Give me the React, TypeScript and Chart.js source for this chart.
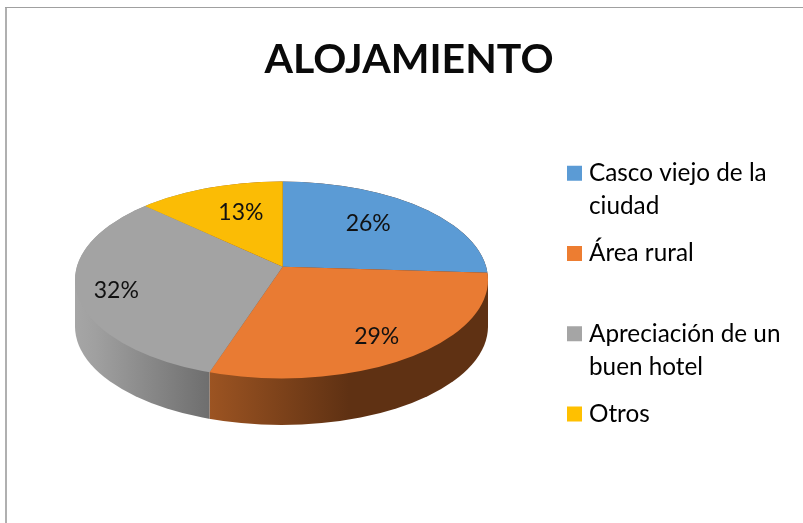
import React, { useEffect, useRef } from "react";
import { Chart, registerables } from "chart.js";

Chart.register(...registerables);

// ---- data ----
const chartTitle = "ALOJAMIENTO";
const categories = ["Casco viejo de la ciudad", "Área rural", "Apreciación de un buen hotel", "Otros"];
const legendLines = [["Casco viejo de la", "ciudad"], ["Área rural", ""], ["Apreciación de un", "buen hotel"], ["Otros"]];
const shares = [26, 29, 32, 13];
const legendColors = ["#5B9BD5", "#ED7D31", "#A5A5A5", "#FFC000"];
const sliceColors = ["#5B9BD5", "#E97B33", "#A3A3A3", "#FBBC05"];

// ---- styling ----
const FONT = "Lato, 'Open Sans', sans-serif";
const TEXT = "#111111";
const WALL_STOPS: (null | [string, number][])[] = [
  null,
  [["#9C5422", 0], ["#5F3113", 0.5], ["#5F3113", 1]],
  [["#A6A6A6", 0], ["#A0A0A0", 0.15], ["#6E6E6E", 1]],
  null,
];
const LABEL_PLACE = [[0.568, 0.648], [0.81, 0.874], [0.832, 0.996], [0.51, 0.608]];
const TILT = 0.469;
const APEX = { x: 282.7, y: 266.7 };
const RIM = { x: 281.5, y: 280, rx: 206.5, ry: 98.5 };
const DEPTH = 46.5;
const OVERSCALE = 1.25;

function rimPoint(theta: number) {
  const dx = Math.cos(theta), dy = Math.sin(theta) * TILT;
  const ox = (APEX.x - RIM.x) / RIM.rx, oy = (APEX.y - RIM.y) / RIM.ry;
  const ux = dx / RIM.rx, uy = dy / RIM.ry;
  const a = ux * ux + uy * uy, b = 2 * (ox * ux + oy * uy), c = ox * ox + oy * oy - 1;
  const t = (-b + Math.sqrt(b * b - 4 * a * c)) / (2 * a);
  return { x: APEX.x + t * dx, y: APEX.y + t * dy };
}

const framePlugin = {
  id: "frame",
  beforeDraw(chart: any) {
    const { ctx, width, height } = chart;
    ctx.save();
    ctx.fillStyle = "#FFFFFF";
    ctx.fillRect(0, 0, width, height);
    ctx.fillStyle = "#B0B0B0";
    ctx.fillRect(5, 7, 2, height - 7);
    ctx.fillStyle = "#A0A0A0";
    ctx.fillRect(5, 7, width - 5, 1);
    ctx.restore();
  },
};

const legendPlacePlugin = {
  id: "legendPlace",
  afterLayout(chart: any) {
    const l = chart.legend;
    const w = l.right - l.left, h = l.bottom - l.top;
    l.left = 557.85; l.right = 557.85 + w; l.top = 146.75; l.bottom = 146.75 + Math.max(h, 330);
  },
};

const tiltedPiePlugin = {
  id: "tiltedPie",
  beforeDatasetDraw(chart: any, args: any) {
    const { ctx } = chart;
    const arcs = args.meta.data;
    const first = arcs[0];

    // side wall
    arcs.forEach((arc: any, i: number) => {
      const stops = WALL_STOPS[i];
      if (!stops) return;
      const a = arc.startAngle, b = arc.endAngle;
      const pa = rimPoint(a), pb = rimPoint(b);
      const lowA = pa.y > RIM.y, lowB = pb.y > RIM.y;
      const has90 = a <= Math.PI / 2 && b >= Math.PI / 2;
      if (!lowA && !lowB && !has90) return;
      const xR = lowA ? pa.x : RIM.x + RIM.rx;
      const xL = lowB ? pb.x : RIM.x - RIM.rx;
      ctx.save();
      ctx.beginPath();
      ctx.rect(xL, 0, xR - xL, chart.height);
      ctx.clip();
      ctx.beginPath();
      ctx.ellipse(RIM.x, RIM.y, RIM.rx, RIM.ry, 0, 0, Math.PI, true);
      ctx.ellipse(RIM.x, RIM.y + DEPTH, RIM.rx, RIM.ry, 0, Math.PI, 0, true);
      ctx.closePath();
      const g = ctx.createLinearGradient(xL, 0, xR, 0);
      stops.forEach((s) => g.addColorStop(s[1], s[0]));
      ctx.fillStyle = g;
      ctx.fill();
      ctx.restore();
    });

    // top surface through the library's own arc elements
    ctx.save();
    ctx.beginPath();
    ctx.ellipse(RIM.x, RIM.y, RIM.rx, RIM.ry, 0, 0, Math.PI * 2);
    ctx.clip();
    ctx.translate(APEX.x, APEX.y);
    const s = (RIM.rx / first.outerRadius) * OVERSCALE;
    ctx.scale(s, s * TILT);
    ctx.translate(-first.x, -first.y);
    args.meta.controller.draw();
    ctx.restore();
    return false;
  },
  afterDatasetsDraw(chart: any) {
    const { ctx } = chart;
    const arcs = chart.getDatasetMeta(0).data;
    const total = shares.reduce((p, v) => p + v, 0);
    ctx.save();
    ctx.font = `23px ${FONT}`;
    ctx.fillStyle = TEXT;
    ctx.textAlign = "center";
    ctx.textBaseline = "middle";
    arcs.forEach((arc: any, i: number) => {
      const mid = (arc.startAngle + arc.endAngle) / 2;
      const x = APEX.x + Math.cos(mid) * RIM.rx * LABEL_PLACE[i][0];
      const y = APEX.y + Math.sin(mid) * RIM.rx * TILT * LABEL_PLACE[i][1];
      ctx.fillText(`${Math.round((shares[i] / total) * 100)}%`, x, y);
    });
    ctx.restore();
  },
};

export default function App() {
  const ref = useRef<HTMLCanvasElement | null>(null);
  useEffect(() => {
    if (!ref.current) return;
    const chart = new Chart(ref.current, {
      type: "pie",
      data: {
        labels: categories,
        datasets: [{ data: shares, backgroundColor: sliceColors, borderWidth: 0 }],
      },
      options: {
        responsive: false,
        animation: false,
        layout: { padding: { left: 15, right: 0, top: 0, bottom: 0 } },
        plugins: {
          tooltip: { enabled: false },
          title: {
            display: true,
            text: chartTitle,
            color: "#0A0A0A",
            font: { family: FONT, size: 41, weight: "bold", lineHeight: "40px" },
            padding: { top: 40, bottom: 30 },
          },
          legend: {
            display: true,
            position: "right",
            align: "start",
            labels: {
              color: TEXT,
              font: { family: FONT, size: 24.3, lineHeight: "33px" },
              boxWidth: 4.7,
              boxHeight: 4.7,
              padding: 14.3,
              generateLabels: () =>
                legendLines.map((text, i) => ({
                  text,
                  fillStyle: legendColors[i],
                  strokeStyle: legendColors[i],
                  lineWidth: 10.3,
                  lineJoin: "miter",
                  hidden: false,
                  index: i,
                })),
            },
          },
        },
      },
      plugins: [framePlugin, legendPlacePlugin, tiltedPiePlugin],
    } as any);
    return () => chart.destroy();
  }, []);
  return (
    <canvas
      ref={ref}
      width={803}
      height={523}
      style={{ position: "absolute", left: 0, top: 0, display: "block" }}
    />
  );
}
